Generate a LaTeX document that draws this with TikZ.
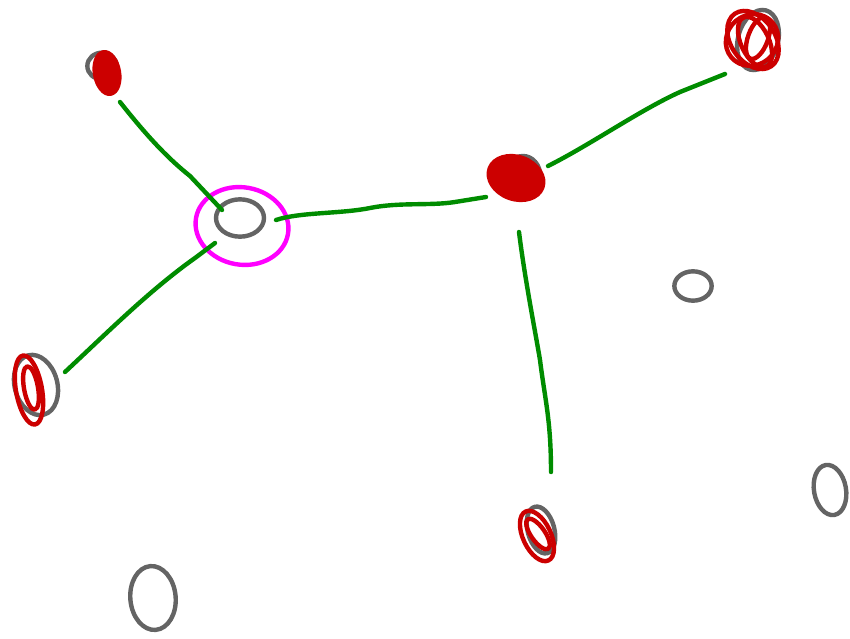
\documentclass[tikz,border=0pt]{standalone}
\usetikzlibrary{shapes.geometric}
\definecolor{pgray}{RGB}{100,100,100}
\definecolor{pred}{RGB}{204,0,0}
\definecolor{pgreen}{RGB}{0,140,0}
\definecolor{pmag}{RGB}{255,0,255}
\begin{document}
\begin{tikzpicture}[x=0.75pt,y=-0.75pt,
  pen/.style={line width=3.3pt,line cap=round,line join=round},
  graypen/.style={pen,draw=pgray},
  redpen/.style={pen,draw=pred},
  greenpen/.style={pen,draw=pgreen},
  magpen/.style={pen,draw=pmag},
  blob/.style={ellipse,inner sep=0pt}]
\useasboundingbox[fill=white] (0,0) rectangle (850,639);

% gray hand circles (nodes)
\node[blob,graypen,minimum width=22pt,minimum height=20pt] (tl) at (102,66) {};
\node[blob,graypen,minimum width=36pt,minimum height=28pt] (hub) at (240,218) {};
\node[blob,graypen,minimum width=26pt,minimum height=30pt] (mid) at (523,176) {};
\node[blob,graypen,minimum width=30pt,minimum height=46pt,rotate=-15] (tr) at (758,40) {};
\node[blob,graypen,minimum width=32pt,minimum height=46pt,rotate=15] (lf) at (36,385) {};
\node[blob,graypen,minimum width=20pt,minimum height=36pt,rotate=15] (bm) at (541,530) {};
\node[blob,graypen,minimum width=28pt,minimum height=22pt] (ro) at (693,286) {};
\node[blob,graypen,minimum width=24pt,minimum height=38pt,rotate=10] (rr) at (830,490) {};
\node[blob,graypen,minimum width=34pt,minimum height=48pt,rotate=5] (bl) at (153,598) {};

% red scribbles
\fill[pred,rotate around={10:(107,73)}] (107,73) ellipse [x radius=12, y radius=21];
\draw[redpen,rotate around={10:(107,73)}] (107,73) ellipse [x radius=12, y radius=21];
\fill[pred,rotate around={-20:(516,178)}] (516,178) ellipse [x radius=27, y radius=20];
\draw[redpen,rotate around={-20:(516,178)}] (516,178) ellipse [x radius=28, y radius=21];
\draw[redpen,rotate around={35:(753,40)}] (753,40) ellipse [x radius=22, y radius=32];
\draw[redpen,rotate around={25:(755,42)}] (755,42) ellipse [x radius=14, y radius=27];
\draw[redpen,rotate around={40:(752,40)}] (752,40) ellipse [x radius=27, y radius=25];
\draw[redpen,rotate around={-20:(758,38)}] (758,38) ellipse [x radius=10, y radius=22];
\draw[redpen,rotate around={10:(29,390)}] (29,390) ellipse [x radius=13, y radius=35];
\draw[redpen,rotate around={10:(31,388)}] (31,388) ellipse [x radius=7, y radius=22];
\draw[redpen,rotate around={25:(537,536)}] (537,536) ellipse [x radius=14, y radius=27];
\draw[redpen,rotate around={35:(538,534)}] (538,534) ellipse [x radius=7, y radius=18];

% magenta highlight
\node[blob,magpen,minimum width=70pt,minimum height=58pt,rotate=-10] (hl) at (242,226) {};

% connector end points
\coordinate (a1) at (120,102);
\coordinate (a2) at (222,210);
\coordinate (b1) at (215,243);
\coordinate (b2) at (65,372);
\coordinate (c1) at (276,220);
\coordinate (c2) at (486,197);
\coordinate (d1) at (548,166);
\coordinate (d2) at (725,74);
\coordinate (e1) at (519,232);
\coordinate (e2) at (551,472);

\draw[greenpen] (a1) .. controls (150,140) and (170,160) .. (190,176) -- (a2);
\draw[greenpen] (b1) -- (195,258) .. controls (150,290) and (110,330) .. (b2);
\draw[greenpen] (c1) .. controls (300,212) and (340,214) .. (370,208) .. controls (400,202) and (430,206) .. (455,202) -- (c2);
\draw[greenpen] (d1) .. controls (590,145) and (640,110) .. (680,92) -- (d2);
\draw[greenpen] (e1) .. controls (525,280) and (535,330) .. (540,360) .. controls (545,400) and (551,420) .. (e2);
\end{tikzpicture}
\end{document}
